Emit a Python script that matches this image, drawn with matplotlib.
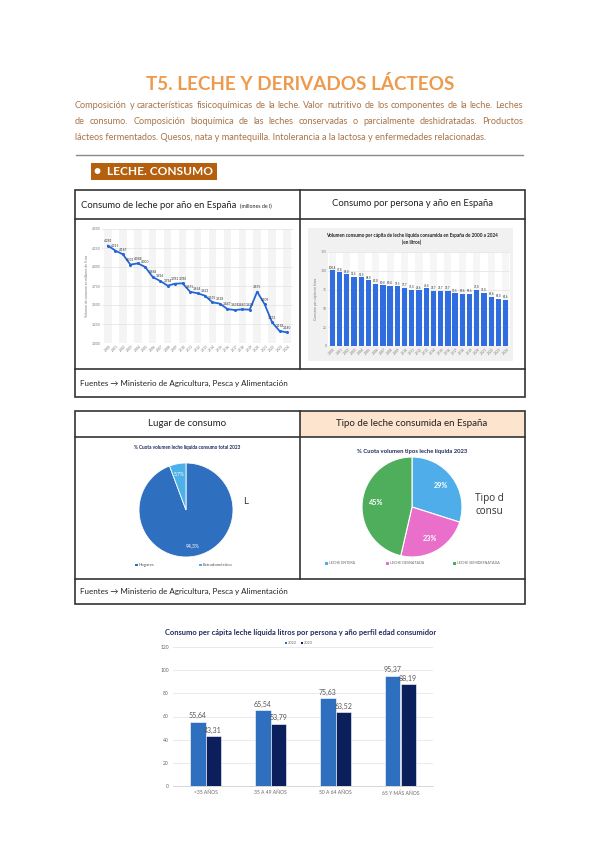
import matplotlib.pyplot as plt
from matplotlib.patches import Rectangle
from matplotlib.transforms import Bbox, TransformedBbox
import numpy as np

plt.rcParams['font.family'] = ['Lato', 'DejaVu Sans']

W, H = 600, 848

# ---- data ----
years = list(range(2000, 2025))
consumo_total = [4281, 4215, 4167, 4031, 4048, 4000, 3868, 3816, 3754, 3781, 3785, 3675, 3654,
                 3623, 3535, 3518, 3447, 3434, 3443, 3439, 3675, 3509, 3272, 3158, 3140]
consumo_persona = [100.4, 97.8, 96.0, 92.4, 91.5, 88.0, 83.0, 80.8, 80.4, 79.5, 77.7, 75.0, 74.6,
                   76.8, 73.7, 73.7, 73.7, 70.5, 69.6, 69.6, 75.0, 71.0, 65.6, 63.0, 61.6]
lugar = ['Hogares', 'Extradoméstico']
lugar_pct = [94.3, 5.7]
tipos = ['LECHE ENTERA', 'LECHE DESNATADA', 'LECHE SEMIDESNATADA']
tipos_pct = [29, 23, 45]
edades = ['<35 AÑOS', '35 A 49 AÑOS', '50 A 64 AÑOS', '65 Y MÁS AÑOS']
anios_edad = ['2022', '2023']
edad_a = [55.64, 65.54, 75.63, 95.37]
edad_b = [43.31, 53.79, 63.52, 88.19]

ORANGE = '#EE9A4D'
BROWN = '#A8744A'
NAVY = '#1F2A5C'

fig = plt.figure(figsize=(W / 100, H / 100), dpi=100)
bg = fig.add_axes([0, 0, 1, 1])
bg.set_xlim(0, W)
bg.set_ylim(H, 0)
bg.axis('off')


def px_axes(x0, y0, x1, y1):
    return fig.add_axes([x0 / W, 1 - y1 / H, (x1 - x0) / W, (y1 - y0) / H])


def justify(line, y, x0, x1, **kw):
    r = fig.canvas.get_renderer()
    words = line.split()
    widths = []
    for w in words:
        t = bg.text(0, 0, w, **kw)
        widths.append(t.get_window_extent(r).width)
        t.remove()
    gap = (x1 - x0 - sum(widths)) / (len(words) - 1)
    x = x0
    for w, wd in zip(words, widths):
        bg.text(x, y, w, va='center', ha='left', **kw)
        x += wd + gap


# ---- header ----
bg.text(300, 84, 'T5. LECHE Y DERIVADOS LÁCTEOS', ha='center', va='center',
        fontsize=13.6, color=ORANGE, fontweight='bold')
para = dict(fontsize=6.6, color=BROWN)
justify('Composición y características fisicoquímicas de la leche. Valor nutritivo de los '
        'componentes de la leche. Leches', 105, 75, 523, **para)
justify('de consumo. Composición bioquímica de las leches conservadas o parcialmente '
        'deshidratadas. Productos', 121, 75, 523, **para)
bg.text(75, 137, 'lácteos fermentados. Quesos, nata y mantequilla. Intolerancia a la lactosa y '
        'enfermedades relacionadas.', va='center', **para)
bg.plot([76, 523], [155, 155], color='#8a8a8a', lw=1)

bg.add_patch(Rectangle((91, 163), 126, 17, facecolor='#B5600E', edgecolor='none'))
bg.text(94, 171.5, '●  LECHE. CONSUMO', color='white', fontsize=8.6, fontweight='bold', va='center')

# ---- table frames ----
LC = '#333333'


def table(top, hdr, body, bottom, peach=False):
    if peach:
        bg.add_patch(Rectangle((300, top), 225, hdr - top, facecolor='#FCE4CF', edgecolor='none'))
    bg.add_patch(Rectangle((75, top), 450, bottom - top, facecolor='none', edgecolor=LC, lw=1.2))
    bg.plot([75, 525], [hdr, hdr], color=LC, lw=1.2)
    bg.plot([75, 525], [body, body], color=LC, lw=1.2)
    bg.plot([300, 300], [top, body], color=LC, lw=1.2)
    bg.text(80, (body + bottom) / 2, 'Fuentes → Ministerio de Agricultura, Pesca y Alimentación',
            fontsize=5.8, va='center', color='#222222')


table(190, 219, 369, 397)
table(411, 437, 579, 604, peach=True)

r = fig.canvas.get_renderer()
t1 = bg.text(81, 205, 'Consumo de leche por año en España', fontsize=6.8, va='center', color='#222222')
wd = t1.get_window_extent(r).width
bg.text(81 + wd + 4, 206, '(millones de l)', fontsize=3.8, va='center', color='#222222')
bg.text(412, 204, 'Consumo por persona y año en España', fontsize=6.8, ha='center', va='center',
        color='#222222')
bg.text(187, 424, 'Lugar de consumo', fontsize=7, ha='center', va='center', color='#222222')
bg.text(412, 424, 'Tipo de leche consumida en España', fontsize=7, ha='center', va='center',
        color='#222222')

# ---- line chart: consumo total ----
STAT = '#2466D6'
ax = px_axes(102, 229, 293, 343)
x = np.arange(len(years))
for i in x[::2]:
    ax.axvspan(i - 0.5, i + 0.5, color='#F4F4F4', zorder=0, lw=0)
ax.plot(x, consumo_total, color=STAT, lw=1.3, marker='o', ms=1.2, zorder=3)
for xi, v in zip(x, consumo_total):
    ax.text(xi, v + 35, f'{v:,.0f}'.replace(',', '.'), fontsize=2.3, ha='center', va='bottom',
            color='#333333', zorder=4)
ax.set_xlim(-0.8, len(years) - 0.2)
ax.set_ylim(3000, 4500)
ax.set_yticks(np.arange(3000, 4501, 250))
ax.set_yticklabels([f'{v:,.0f}'.replace(',', '.') for v in np.arange(3000, 4501, 250)])
ax.set_xticks(x)
ax.set_xticklabels(years, rotation=45)
ax.tick_params(labelsize=2.4, colors='#777777', length=0, pad=1)
ax.grid(axis='y', color='#E2E2E2', lw=0.5)
ax.set_axisbelow(True)
for s in ax.spines.values():
    s.set_visible(False)
ax.set_ylabel('Volumen de consumo en millones de litros', fontsize=2.4, color='#777777', labelpad=2)

# ---- bar chart: consumo por persona ----
bg.add_patch(Rectangle((308, 228), 205, 133, facecolor='#F1F1F1', edgecolor='none'))
bg.text(412, 235, 'Volumen consumo per cápita de leche líquida consumida en España de 2000 a 2024',
        fontsize=3.3, ha='center', va='center', fontweight='bold', color='#222222')
bg.text(412, 242, '(en litros)', fontsize=3.3, ha='center', va='center', fontweight='bold',
        color='#222222')
ax = px_axes(328, 252, 510, 346)
ax.set_facecolor('white')
for i in x[::2]:
    ax.axvspan(i - 0.5, i + 0.5, color='#F6F6F6', zorder=0, lw=0)
ax.bar(x, consumo_persona, width=0.75, color='#2F6DE0', zorder=3)
for xi, v in zip(x, consumo_persona):
    ax.text(xi, v + 1, f'{v:.1f}'.replace('.', ','), fontsize=2.1, ha='center', va='bottom',
            color='#333333', zorder=4)
ax.set_xlim(-0.6, len(years) - 0.4)
ax.set_ylim(0, 125)
ax.set_yticks(np.arange(0, 126, 25))
ax.set_xticks(x)
ax.set_xticklabels(years, rotation=45)
ax.tick_params(labelsize=2.4, colors='#777777', length=0, pad=1)
ax.grid(axis='y', color='#E2E2E2', lw=0.5)
ax.set_axisbelow(True)
for s in ax.spines.values():
    s.set_visible(False)
ax.set_ylabel('Consumo per cápita en litros', fontsize=2.4, color='#777777', labelpad=2)

# ---- pie: lugar de consumo ----
bg.text(187, 448, '% Cuota volumen leche líquida consumo total 2023', fontsize=3.4,
        fontweight='bold', ha='center', va='center', color=NAVY)
ax = px_axes(139, 463, 233, 557)
ax.pie(lugar_pct, colors=['#2E6FC0', '#4DB0E8'], startangle=90, counterclock=False,
       autopct=lambda p: f'{p:.1f}%'.replace('.', ','), pctdistance=0.78,
       textprops=dict(color='white', fontsize=3.6), wedgeprops=dict(lw=0.6, edgecolor='white'))
ax.set_xlim(-1, 1)
ax.set_ylim(-1, 1)
for i, (lab, col) in enumerate(zip(lugar, ['#2E6FC0', '#4DB0E8'])):
    lx = [139, 203][i]
    bg.add_patch(Rectangle((lx - 4, 563.5), 2.5, 2.5, facecolor=col, edgecolor='none'))
    bg.text(lx, 565, lab, fontsize=3.2, va='center', color='#555555')
bg.text(243, 502, 'L', fontsize=7, va='center', color='#333333')

# ---- pie: tipo de leche ----
PIE2 = ['#4FAEE9', '#E96FCB', '#4EAE5B']
bg.text(412, 452, '% Cuota volumen tipos leche líquida 2023', fontsize=4.2,
        fontweight='bold', ha='center', va='center', color=NAVY)
ax = px_axes(362, 457, 462, 557)
ax.pie(tipos_pct, colors=PIE2, startangle=90, counterclock=False,
       labels=[f'{v}%' for v in tipos_pct], labeldistance=0.72,
       textprops=dict(color='white', fontsize=5.2, fontweight='bold', ha='center', va='center'),
       wedgeprops=dict(lw=0.8, edgecolor='white'))
ax.set_xlim(-1, 1)
ax.set_ylim(-1, 1)
for i, (lab, col) in enumerate(zip(tipos, PIE2)):
    lx = [329, 390, 457][i]
    bg.add_patch(Rectangle((lx - 4, 562), 2.5, 2.5, facecolor=col, edgecolor='none'))
    bg.text(lx, 563.5, lab, fontsize=2.6, va='center', color='#666666')
# side caption cut off by the pasted image edge
clipbox = TransformedBbox(Bbox([[300 / W, 1 - 579 / H], [503 / W, 1 - 437 / H]]), fig.transFigure)
for yy, s in [(499, 'Tipo de'), (511, 'consumo')]:
    tt = bg.text(475, yy, s, fontsize=7.2, va='center', color='#333333', family='Open Sans')
    tt.set_clip_on(True)
    tt.set_clip_box(clipbox)
    tt.set_clip_path(None)

# ---- bottom chart: consumo per cápita por edad ----
bg.text(301, 632, 'Consumo per cápita leche líquida litros por persona y año perfil edad consumidor',
        fontsize=5.4, fontweight='bold', ha='center', va='center', color=NAVY)
C1, C2 = '#2E6FC0', '#0B1F5C'
for i, (lab, col) in enumerate(zip(anios_edad, [C1, C2])):
    lx = [288, 304][i]
    bg.add_patch(Rectangle((lx - 3.5, 641.5), 2.5, 2.5, facecolor=col, edgecolor='none'))
    bg.text(lx, 643, lab, fontsize=2.8, va='center', color='#666666')

ax = px_axes(173, 647, 433, 786)
xe = np.arange(len(edades))
bw = 0.235
ax.bar(xe - bw / 2, edad_a, width=bw, color=C1, edgecolor='white', lw=0.4)
ax.bar(xe + bw / 2, edad_b, width=bw, color=C2, edgecolor='white', lw=0.4)
for xi, v in zip(xe - bw / 2, edad_a):
    ax.text(xi, v + 2, f'{v:.2f}'.replace('.', ','), fontsize=5, ha='center', va='bottom',
            color='#555555')
for xi, v in zip(xe + bw / 2, edad_b):
    ax.text(xi, v + 2, f'{v:.2f}'.replace('.', ','), fontsize=5, ha='center', va='bottom',
            color='#555555')
ax.set_xlim(-0.5, len(edades) - 0.5)
ax.set_ylim(0, 120)
ax.set_yticks(np.arange(0, 121, 20))
ax.set_xticks(xe)
ax.set_xticklabels(edades)
ax.tick_params(labelsize=3.6, colors='#666666', length=0, pad=3)
ax.grid(axis='y', color='#E6E6E6', lw=0.6)
ax.set_axisbelow(True)
for s in ax.spines.values():
    s.set_visible(False)
ax.spines['bottom'].set_visible(True)
ax.spines['bottom'].set_color('#D0D0D0')
ax.spines['bottom'].set_linewidth(0.6)

fig.savefig('out.png', dpi=100)
